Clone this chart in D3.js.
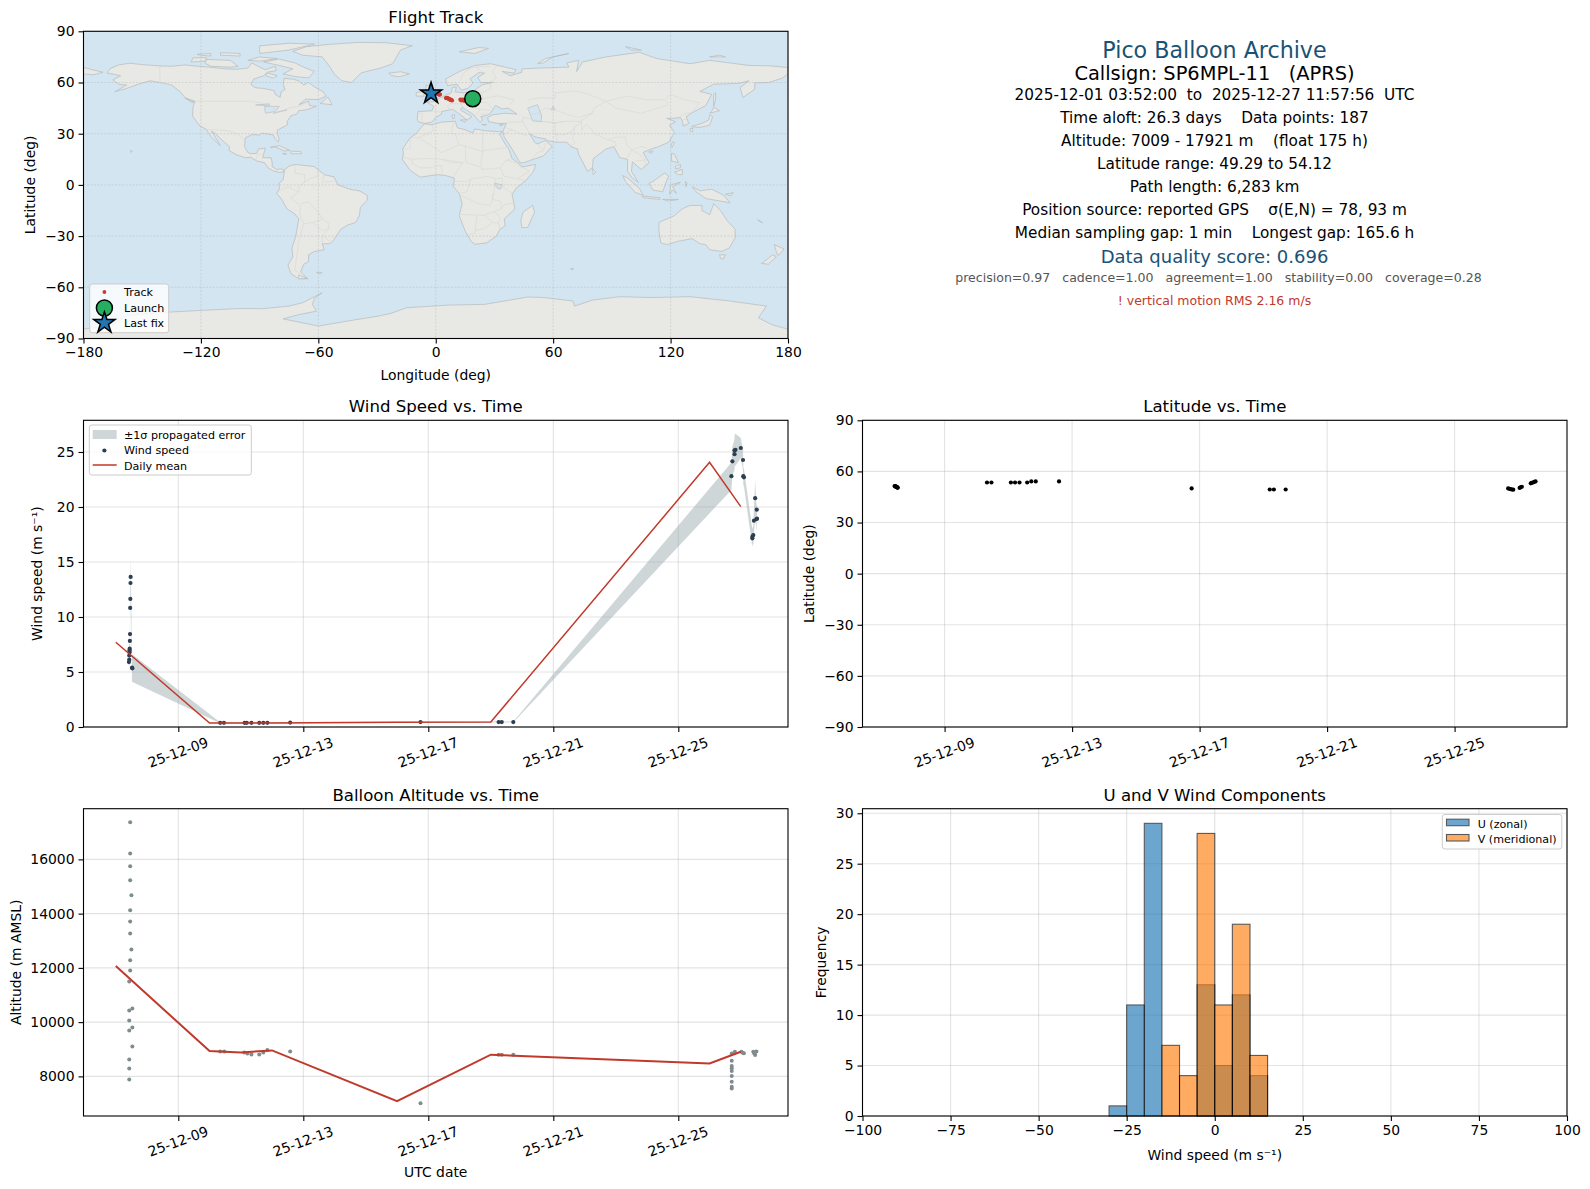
<!DOCTYPE html>
<html>
<head>
<meta charset="utf-8">
<script src="https://cdn.jsdelivr.net/npm/d3@7"></script>
<style>
  body { margin: 0; background: #fff; }
  svg text { font-family: "DejaVu Sans", sans-serif; fill: #000; white-space: pre; }
  .grid line { stroke: #b0b0b0; stroke-opacity: .35; stroke-width: 1.1; }
  .tick line, .domain { stroke: #000; stroke-width: 1.1; }
</style>
</head>
<body>
<div id="chart"></div>
<script>
/** Map: outlines as [lon, lat] */
const northAmerica = [[-168,65.6],[-166,68.4],[-162,70.3],[-156.5,71.3],[-150,70.5],[-141,69.7],[-135,69.5],[-128,70.3],[-124,69.8],[-115,68.9],[-108,68],[-101,67.8],[-96,68.5],[-94,71.5],[-90,69],[-87,67.5],[-82,69.5],[-81.5,67],[-86,66],[-88,64],[-93,62],[-94.5,59],[-92.5,57],[-88,56.5],[-82.5,55.2],[-82,53],[-79.5,51.3],[-79,54.5],[-77,56],[-78,58.8],[-77.5,62.4],[-73,62],[-70,61],[-67.5,58.5],[-65,60],[-62,57.5],[-57.5,54.5],[-56,52],[-60,50],[-66.5,50.2],[-70,47],[-65,49],[-64.5,46.5],[-61,46],[-66,44],[-70,43.5],[-71,41.5],[-74,40.5],[-76,37],[-75.7,35.3],[-78,33.8],[-81,32],[-81,30],[-80,26.8],[-80.5,25.2],[-82,27],[-83,29.2],[-85,29.7],[-89,30.3],[-90,29.2],[-94,29.5],[-97.3,27.5],[-97.7,22.5],[-96,19],[-94.5,18.2],[-91.5,18.5],[-90.5,21],[-87,21.5],[-88,18],[-88.5,16],[-84,15.8],[-83.5,12],[-83.7,10.8],[-81,8.9],[-79.5,9.5],[-77.3,8.7],[-78,7.5],[-80,7.3],[-83,8.2],[-85.7,10],[-87.5,13],[-91.5,14],[-94.5,16.2],[-97,15.9],[-101.5,17.5],[-105.5,20],[-105.5,22.5],[-109,26],[-112.5,30],[-114.7,31.5],[-112.5,27.5],[-110,23],[-112,25],[-115,28.5],[-117.2,32.5],[-120.5,34.5],[-122.5,37.5],[-124.3,40.3],[-124,46],[-123,49],[-128,51],[-130.5,54.5],[-135,58.5],[-140,59.8],[-146,61],[-152,59],[-158,56.5],[-164,54.6],[-158,58.5],[-162,59],[-165,61.5],[-161,64],[-168,65.6]];
const southAmerica = [[-77.3,8.7],[-75,11],[-72,12],[-68,11.5],[-62,10.7],[-57,6],[-52,4.7],[-50,0],[-44,-2.5],[-39,-3.5],[-35,-6],[-35,-9],[-38.5,-13],[-39,-18],[-41,-22],[-45,-23.5],[-48.5,-26],[-52,-32],[-54,-34.5],[-58,-34.5],[-57,-38],[-62,-39],[-65,-41],[-65,-45],[-67.5,-46.5],[-69,-51],[-65.5,-55],[-70,-55],[-74,-52],[-75.5,-47],[-73,-42],[-73.5,-37],[-71.5,-30],[-70,-20],[-72,-17],[-76,-14],[-79,-8],[-81.3,-5],[-80,-2.5],[-80,1],[-78,3],[-77.5,7],[-77.3,8.7]];
const africa = [[-6,35.8],[-2,35.2],[3,36.8],[10,37.3],[11,33.5],[15,32.3],[19,30.4],[20,32.8],[25,31.8],[32,31.2],[34.3,31.2],[32.5,29.8],[35.5,24],[37.3,21],[39,15.5],[43,12],[44,10.5],[51,12],[50,8],[46,2.5],[41,-2],[39,-5.5],[40.5,-14],[35,-20],[35.5,-24],[32.8,-26],[31,-30],[26,-34],[20,-34.8],[18,-33],[15,-27],[12,-18],[13.5,-11],[12,-5],[9,-1],[9.5,4],[5,5.5],[1,6],[-4,5.2],[-8,4.5],[-13,8.5],[-17,14.7],[-16.5,19],[-17,21],[-13,27.7],[-10,30],[-6,35.8]];
const eurasia = [[-9,37],[-9.5,38.7],[-9,43],[-2,43.4],[-1,46],[-4.5,48.4],[-1.5,48.7],[1.5,50.5],[4,52],[8,54],[8.5,57],[10.5,57.5],[10,54.5],[14,54],[19,54.5],[21,56.5],[24,58.8],[29,60],[23,60],[21.5,63],[25,65.5],[22,65.8],[17.5,62],[19,59.8],[16.5,56.5],[13,55.5],[11,59],[6,58.2],[5,62],[13,67],[20,70],[28,71],[41,67.5],[40,65.5],[34,66.5],[38,64],[44,66],[44,68],[54,68.5],[68,69],[67,71.5],[73,73],[72,66.5],[75,72],[87,75],[104,77.7],[113,74],[130,71],[140,73],[160,70],[170,69.8],[180,68.8],[180,65],[177,62.5],[170,60],[163,59.8],[163,56],[157,51.2],[155.5,57],[160,61],[155,59.5],[142,59],[135,54.8],[141,53],[138,46.5],[132,43],[128,40],[129.3,36],[126.5,34.5],[126,37.5],[125,39.5],[121.5,39],[118,39],[122.5,37],[119.5,35],[122,30.5],[119,25],[114,22.5],[110,21],[106,19],[109,13],[105,9],[100.5,13.5],[100,8],[103.5,1.5],[100.5,4],[98,8],[98,15],[94,16],[91,22.5],[87,21],[80.5,15.5],[80,10],[77.5,8],[73,18],[72.5,21],[69,22.5],[67,25],[61.5,25],[57,26],[56,27],[51,28],[48,30],[50.5,25],[52,24],[56,26],[59.5,22.5],[55,17],[45,13],[43,13],[39,21],[35,28],[34.3,31.2],[36,36],[32,36],[27,37],[26.5,39.5],[29,41],[35,42],[41.5,41.5],[37,45],[34,44.5],[30.5,46.5],[28,42],[26,40.7],[23,40],[24,38],[22.5,36.7],[19.5,41],[13.5,45.5],[12.5,44],[18.5,40],[16,38],[11,42.5],[8.5,44.3],[3,43],[3,41.5],[0,39.5],[-2,36.8],[-5.5,36],[-9,37]];
const australia = [[114,-22],[122,-18],[126,-14],[130,-12],[136,-12],[136,-15],[140,-17.5],[142,-11],[145.5,-15],[149,-21],[153,-26],[153,-31],[150,-37],[146,-39],[140,-38],[138,-35],[135,-34.5],[131,-31.5],[124,-33],[118,-35],[115,-34],[114,-27],[114,-22]];
const antarctica = [[-180,-90],[-180,-84.5],[-165,-82],[-158,-76.5],[-136,-74.5],[-119,-73.5],[-102,-72.5],[-88,-72.5],[-75,-71],[-68,-69],[-58,-63.2],[-62,-66.5],[-63,-70],[-61,-74],[-70,-76],[-78,-78.5],[-60,-82.7],[-42,-79.2],[-30,-77],[-23,-75.3],[-15,-72],[7,-70.4],[25,-70],[47,-65.7],[55,-66],[70,-68],[71,-71],[80,-67.5],[94,-65.5],[110,-66],[130,-65.5],[150,-68],[169,-71],[166,-76],[165,-78],[172,-82],[180,-84.5],[180,-90]];
const greenland = [[-73,78.2],[-66,81],[-55,82.3],[-40,83.5],[-25,83.3],[-12,81.5],[-18,79],[-20,75],[-22,71],[-28,68.5],[-38,65.7],[-43,60],[-48,61],[-52,65],[-54,69],[-58,75],[-68,76],[-73,78.2]];
const islands = [
  [[-80,73.7],[-72,71.5],[-67.5,69],[-62,66.5],[-65,62.7],[-72,63.5],[-78,65],[-73,68],[-80,70],[-88,72],[-80,73.7]],
  [[-117,73.5],[-105,73],[-101,69.5],[-105,69],[-115,69.5],[-118,71.5],[-117,73.5]],
  [[-90,77],[-75,79],[-62,82.5],[-75,83],[-90,81.5],[-90,77]],
  [[-125,72],[-118,72.5],[-117,74.5],[-124,74.5],[-125,72]],
  [[-96,73],[-90,72.5],[-81,74],[-90,75],[-96,73]],
  [[-110,76],[-100,75.5],[-100,77],[-110,77.5],[-110,76]],
  [[-120,76],[-115,75.5],[-115,77],[-122,76.5],[-120,76]],
  [[-86,65.5],[-81,64],[-83,62.5],[-87,64],[-86,65.5]],
  [[-59,47.7],[-53,47],[-55,51.5],[-59,47.7]],
  [[-128,50.8],[-123.5,48.5],[-125,48.5],[-128,50.8]],
  [[-84.5,22],[-80,23],[-74.5,20.2],[-77.5,19.9],[-82,22.3],[-84.5,22]],
  [[-74,19.8],[-69,19.5],[-68.5,18.3],[-74,18.2],[-74,19.8]],
  [[-78.2,18.4],[-76.3,18.2],[-77,17.8],[-78.2,18.4]],
  [[-156,20.2],[-155,19.8],[-155.7,19],[-156,20.2]],
  [[-61,-51.2],[-58,-51.3],[-59,-52.2],[-61,-51.2]],
  [[-70,-52.8],[-65.5,-54.8],[-70,-55],[-70,-52.8]],
  [[-5.5,50],[1,51],[1.5,52.8],[-1.5,55],[-2,57.5],[-5,58.5],[-5,55],[-3,54],[-5,52],[-5.5,50]],
  [[-10,52],[-6,52],[-6,55],[-10,54],[-10,52]],
  [[-24,65.5],[-18,66.3],[-13.5,65],[-18.5,63.4],[-22.5,64],[-24,65.5]],
  [[12,78],[22,80.5],[27,80],[20,77],[12,78]],
  [[52,71],[56,74],[68,77],[60,75],[55,71.5],[52,71]],
  [[100,79],[105,79],[97,81],[100,79]],
  [[140,75],[148,75],[145,76],[140,75]],
  [[12.5,38],[15.5,38.2],[15,36.7],[12.5,38]],
  [[8.3,41],[9.7,41],[9.5,39],[8.5,39],[8.3,41]],
  [[23.5,35.5],[26,35.3],[24.5,35],[23.5,35.5]],
  [[32.5,35],[34.5,35.6],[33.5,34.6],[32.5,35]],
  [[130.8,34],[135,33.7],[140,35],[141.5,40],[140,41],[139.5,38],[136,36],[131,34.4],[130.8,34]],
  [[140,42],[145,43.5],[142,45.5],[141,43],[140,42]],
  [[130,33],[131.5,33],[131,31],[130,31.5],[130,33]],
  [[142,46],[143,50],[143,54],[142,53],[142,48],[142,46]],
  [[120.2,23],[121,25.2],[122,25],[120.8,22],[120.2,23]],
  [[108.8,19.3],[110.8,20],[110.3,18.4],[108.8,19.3]],
  [[120.5,18.5],[122,18],[124,13],[120.5,14],[120.5,18.5]],
  [[122,7.5],[126,9],[126,6],[124,6],[122,7.5]],
  [[122.5,11],[125,12],[125,10],[122.5,9.5],[122.5,11]],
  [[109,1],[111,2],[117,7],[119,5],[117.5,1],[116,-4],[111,-3],[109,1]],
  [[95.5,5.5],[98,4],[104,-2],[106,-6],[102,-4.5],[97,2],[95.5,5.5]],
  [[105.5,-6.5],[114.5,-7.5],[114.5,-8.5],[106,-7.5],[105.5,-6.5]],
  [[116,-8.5],[124,-8.5],[119,-9.5],[116,-8.5]],
  [[119.5,-5.5],[120,0],[125,1.5],[121,-1],[123,-5],[121,-3],[119.5,-5.5]],
  [[127.5,2],[128.5,1],[127.8,-1],[127.5,2]],
  [[131,-1],[135,-3.5],[141,-2.5],[147,-6],[150.5,-10.5],[143,-9],[138,-8],[133,-4],[131,-1]],
  [[148,-5.5],[152,-4.5],[151,-6.3],[148,-5.5]],
  [[80,9.7],[81.8,7.5],[80.5,6],[80,9.7]],
  [[49.5,-12],[50.5,-16],[47,-25],[44,-25],[43.5,-21],[44.5,-16],[49.5,-12]],
  [[145,-41],[148,-41],[147,-43.5],[145.5,-43],[145,-41]],
  [[173,-35],[178,-37.5],[175,-41.5],[174,-39],[173,-35]],
  [[172,-41],[174,-42],[170,-46.5],[166.5,-46],[170,-43],[172,-41]],
  [[165,-21],[167,-22.2],[164.5,-20.3],[165,-21]],
  [[69,-49],[70.5,-49.2],[69.5,-49.8],[69,-49]],
  [[-180,68.8],[-170,66],[-175,64.5],[-180,65],[-180,68.8]]
];
const caspianSea = [[47,45],[52,47],[54,41],[54,37],[49.5,37.5],[48,42],[47,45]];
const inlandWaters = [
  [[-92,46.8],[-85,47.5],[-85,46.5],[-92,46.8]],
  [[-87.5,46],[-80,46],[-82,43],[-87,42],[-87.5,46]],
  [[-83,42],[-76,44],[-79.5,43],[-83,42]],
  [[30,1],[34,0],[33,-2.5],[31.5,-2],[30,1]],
  [[60,46],[61,44],[59,44],[60,46]]
];
const borders = [
  [[-123,49],[-95,49],[-89,48],[-83,46],[-82.5,42],[-79,43],[-75,45],[-70,46],[-67,47.5]],
  [[-141,69.7],[-141,60],[-135,58.5]],
  [[-117,32.5],[-106.5,31.8],[-101,29.7],[-97.3,26]],
  [[-92,14.6],[-91,17.5],[-89,17.8]],
  [[-72,12],[-72,7],[-67,6],[-67,1.5],[-70,-1],[-70,-4.2],[-74,-7.5],[-70.5,-11],[-69,-12.5],[-69.5,-17.5],[-67.5,-22.8],[-70,-33],[-72,-50],[-69,-52]],
  [[-60.5,8.5],[-60,5],[-64,4],[-67,1.5]],
  [[-57,6],[-58,1.5],[-52,2.3]],
  [[-80,-3.5],[-75.5,-1],[-70,-4.2]],
  [[-58,-20],[-62.5,-22],[-67.5,-22.8]],
  [[-58,-20],[-60,-16],[-65,-10],[-69,-11]],
  [[-62.5,-22],[-58,-27],[-54.5,-25.5],[-58,-30],[-58,-34]],
  [[-54.5,-25.5],[-55,-22],[-58,-20]],
  [[-53.5,-33.7],[-57.5,-30]],
  [[-9,41.9],[-7,42],[-7,37.2]],
  [[-1.8,43.3],[3,42.5]],
  [[3,51.3],[8,49],[7.5,47.6],[6,46],[7.5,43.8]],
  [[7,53.5],[6,51],[3,51.3]],
  [[9,54.8],[10,54.5]],
  [[14,54],[15,51],[24,50.5],[23.5,54],[21,55.3]],
  [[7.5,47.6],[13,47.5],[17,48],[22.5,48.5],[24,50.5]],
  [[13,47.5],[13.5,45.6]],
  [[17,48],[19,45.8],[22.7,44.2],[28,43.7]],
  [[22.5,48.5],[26.5,48.2],[28.2,45.5],[29.5,45.2]],
  [[24,50.5],[32,52.2],[40,49.7],[38,47]],
  [[23.5,54],[28,56],[28,59.5]],
  [[31,69.7],[29,66],[31,62.7],[28,60.5]],
  [[13,67],[18,68.5],[20.5,69],[28,69.5]],
  [[12.5,61],[14,65.5],[18,68.5]],
  [[20.5,69],[24,66],[25,65.5]],
  [[22.7,44.2],[21,41],[20,39.7]],
  [[23,41.3],[26.3,41.7]],
  [[-17,21],[-13,21.3],[-13,27.7]],
  [[-13,27.7],[-8.7,27.7],[-1,32],[-2,35.2]],
  [[-8.7,27.7],[3,19],[12,23.5],[14.5,23],[24,19.5],[24,31.8]],
  [[9,37],[8,30],[10,30],[12,23.5]],
  [[24,20],[37,22]],
  [[24,19.5],[23,12.5],[24,9],[33,10],[35,5],[41,3.8],[46,2.5]],
  [[33,10],[36,14.5],[39,15.5]],
  [[36,14.5],[42,12.8],[43,11],[48,8],[42,4]],
  [[-16.5,16],[-12,15],[-5,15.5],[3,15],[14,13]],
  [[-12,15],[-12,12.5],[-8,10],[-3,10],[2.7,11.5],[3.5,6.4]],
  [[14,13],[8,13],[3,15]],
  [[14,13],[9,5]],
  [[15,23],[15.5,13],[22,10.8],[24,9]],
  [[9.5,2.2],[16,2],[18,3.5],[27,5],[30.5,3.5],[30,-1],[29.5,-5],[28,-12],[22,-11],[12,-5.8]],
  [[18,3.5],[16,-4],[12.5,-5]],
  [[30.5,3.5],[34,4],[34,-1],[39,-4.7]],
  [[34,-1],[30,-1]],
  [[29.5,-5],[29,-8.5],[33,-9.5],[33.5,-14],[30,-15.5],[25,-17.8],[12,-17.3]],
  [[21,-18],[20,-28.5],[17,-28.8]],
  [[25,-17.8],[29,-22],[32,-22.5],[33,-26]],
  [[33.5,-14],[35,-11.5],[40.5,-10.5]],
  [[30,-15.5],[33,-19.5],[32,-22.5]],
  [[20,-26.8],[25,-25.5],[29,-22]],
  [[36,36.5],[42,37],[44.5,37],[46,34],[48,30]],
  [[36,33.5],[39,32.3],[46,29],[48,29.5]],
  [[35,29.5],[37,31.5],[39,32.3]],
  [[52,24],[55,20],[52,19],[48,14]],
  [[55,20],[56,24.5]],
  [[44.5,37],[44.5,39.7],[49,38.4],[54,37.3],[61,36.5],[61,31.5],[62,25.2]],
  [[61,36.5],[66,37.3],[71,37.3],[74.5,37],[71,34],[69,31],[66,29.5],[61,29.5]],
  [[71,34],[70,28],[71,24.5],[69,23]],
  [[74.5,37],[74.5,32],[77,35.5],[80,32],[81,30],[88,26.5],[92,28],[97,28]],
  [[88,26.5],[92,25],[92,22.5]],
  [[97,28],[97.5,23.5],[100,20.5],[98,16]],
  [[100,20.5],[105,22.5],[108,21.5]],
  [[100,20.5],[104,18],[107,15],[107,11]],
  [[102,14],[107,14.5]],
  [[48,41.5],[52,42],[54,41]],
  [[54,37.3],[61,36],[66,37.3]],
  [[52,42],[56,45],[61,44],[68,41],[73,39.5],[80,42],[74,37.5]],
  [[47.5,50],[54,51],[61,51],[61,54],[71,55],[77,53.5],[87,49]],
  [[87,49],[81,45],[80,42]],
  [[87,49],[98,52],[107,50],[117,50],[120,53],[127,50],[135,48],[131,43]],
  [[87,49],[92,45],[105,42],[112,44.5],[119,47],[117,50]],
  [[124.5,40],[128,42],[130.5,42.3]],
  [[126,38],[128.5,38.5]],
  [[28,60.5],[31,60]]
];
const trackLon = [13,13.4,13.9,14.2,14.6,15,12.6,5.2,5.6,6,6.4,6.8,7.1,7.4,7.8,8.3,0.3,0.7,1,1.3,1.6,2,2.1];
const trackLat = [49.5,49.8,50,49.4,49.6,49.3,50,50.9,51,50.8,50.6,50.4,50.1,50,49.8,49.5,53.6,53.4,53.5,53.2,53,53.1,52.9];
const launchFix = [18.9, 50.5];
const lastFix = [-2.4, 53.6];

/** Wind speed vs. time, days are days of December 2025 */
const windDays = [7.42,7.43,7.43,7.44,7.44,7.445,7.45,7.455,7.46,7.465,7.47,7.475,7.52,7.53,10.34,10.46,11.12,11.19,11.34,11.59,11.72,11.85,12.58,16.75,19.25,19.35,19.72,26.7,26.73,26.8,26.8,26.83,27.0,27.07,27.08,27.1,27.37,27.37,27.4,27.42,27.46,27.5,27.51,27.52];
const windSpeed = [5.9,6.12,6.5,6.8,6.97,7.12,7.82,8.45,10.82,11.64,13.09,13.64,5.39,5.33,0.38,0.38,0.38,0.38,0.38,0.38,0.38,0.38,0.4,0.45,0.45,0.45,0.45,22.8,24.15,24.8,25.15,25.2,25.36,24.27,22.8,22.7,17.15,17.3,17.45,18.76,20.8,18.9,19.76,18.94];
const windSigma = [0.9,0.9,0.9,1,1,1,1.1,1.2,1.3,1.5,1.6,1.7,1.25,1.25,0.05,0.05,0.05,0.05,0.05,0.05,0.05,0.05,0.05,0.05,0.05,0.05,0.05,1.25,1.3,1.4,1.4,1.45,0.9,0.9,0.8,0.8,0.8,0.8,0.8,1.2,1.6,1.2,0.7,0.7];
const meanDays = [7,10,11,12,16,19,26,27];
const meanWind = [7.7,0.36,0.36,0.37,0.43,0.45,24.06,20.03];

/** Latitude vs. time */
const latDays = [7.43,7.45,7.46,7.47,7.48,7.49,7.5,7.51,7.52,7.53,10.33,10.47,11.08,11.21,11.35,11.59,11.72,11.86,12.59,16.75,19.2,19.33,19.7,26.68,26.72,26.76,26.8,26.84,27.04,27.07,27.11,27.39,27.42,27.46,27.5,27.54];
const latDeg = [51.4,51.3,51.2,51.1,51,50.9,50.8,50.7,50.5,50.4,53.5,53.5,53.5,53.5,53.5,53.5,54.1,54.1,54.12,50,49.4,49.4,49.4,50,49.8,49.6,49.4,49.29,50.3,50.7,51,53,53.3,53.5,53.9,54.1];

/** Altitude vs. time */
const altDays = [7.43,7.43,7.43,7.53,7.43,7.53,7.43,7.53,7.43,7.43,7.46,7.46,7.5,7.46,7.46,7.46,7.5,7.46,7.46,7.46,7.46,10.34,10.47,11.11,11.21,11.34,11.59,11.72,11.85,12.58,16.75,19.25,19.35,19.72,26.71,26.71,26.71,26.71,26.71,26.71,26.71,26.71,26.71,26.81,27.02,27.06,27.1,27.4,27.43,27.46,27.5];
const altMeters = [7889,8295,8627,9106,9696,9806,10065,10507,10433,11502,11908,12277,12682,13272,13714,14120,14673,15226,15742,16221,17365,8922,8922,8885,8848,8811,8811,8885,8970,8922,7009,8800,8800,8800,7557,7620,7800,8011,8200,8300,8380,8575,8848,8908,8908,8870,8850,8908,8847,8785,8920];
const meanAlt = [12068,8934,8885,8958,7090,8800,8479,8908];

/** Histogram counts, bins 5 m/s wide */
const histEdges = [-30,-25,-20,-15,-10,-5,0,5,10,15];
const uCounts = [1,11,29,0,0,13,5,12,4];
const vCounts = [0,0,0,7,4,28,11,19,6];

/** Axis ticks */
const mapLonTicks = [-180,-120,-60,0,60,120,180];
const latTicks = [-90,-60,-30,0,30,60,90];
const dateTicks = [9,13,17,21,25];
const windTicks = [0,5,10,15,20,25];
const altTicks = [8000,10000,12000,14000,16000];
const histXTicks = [-100,-75,-50,-25,0,25,50,75,100];
const histYTicks = [0,5,10,15,20,25,30];

/** Info panel lines */
const infoLines = [
  {t: "Pico Balloon Archive", y: 58, s: 22.2, c: "#1a5276"},
  {t: "Callsign: SP6MPL-11   (APRS)", y: 80, s: 19.4, c: "#000"},
  {t: "2025-12-01 03:52:00  to  2025-12-27 11:57:56  UTC", y: 100, s: 15.3, c: "#000"},
  {t: "Time aloft: 26.3 days    Data points: 187", y: 123, s: 15.3, c: "#000"},
  {t: "Altitude: 7009 - 17921 m    (float 175 h)", y: 146, s: 15.3, c: "#000"},
  {t: "Latitude range: 49.29 to 54.12", y: 169, s: 15.3, c: "#000"},
  {t: "Path length: 6,283 km", y: 192, s: 15.3, c: "#000"},
  {t: "Position source: reported GPS    σ(E,N) = 78, 93 m", y: 215, s: 15.3, c: "#000"},
  {t: "Median sampling gap: 1 min    Longest gap: 165.6 h", y: 238, s: 15.3, c: "#000"},
  {t: "Data quality score: 0.696", y: 263, s: 18, c: "#1a5276"},
  {t: "precision=0.97   cadence=1.00   agreement=1.00   stability=0.00   coverage=0.28", y: 282, s: 12.55, c: "#555", dx: 4},
  {t: "! vertical motion RMS 2.16 m/s", y: 305, s: 12.5, c: "#c0392b"}
];

const toDate = d => new Date(Date.UTC(2025, 11, 1) + (d - 1) * 864e5);
const pairs = (a, b) => a.map((v, i) => [v, b[i]]);

const svg = d3.select("#chart").append("svg")
  .attr("width", 1590).attr("height", 1189);

// boxes of the five axes
const leftCol = [83.5, 788], rightCol = [862.5, 1567];
const row1 = [31.3, 338.5], row2 = [420.3, 727], row3 = [808.7, 1116];

/** Date scale for a column: December 9 and 25 sit at known pixels */
function dateScale(col, at9, at25) {
  const pxPerDay = (at25 - at9) / 16;
  return d3.scaleUtc()
    .domain([toDate(9 + (col[0] - at9) / pxPerDay), toDate(9 + (col[1] - at9) / pxPerDay)])
    .range(col);
}

/** Axes, grid, spines and labels for one panel */
function panel(opt) {
  const g = svg.append("g");
  const grid = g.append("g").attr("class", "grid");
  grid.selectAll(".gx").data(opt.xTicks).join("line")
    .attr("x1", d => opt.x(d)).attr("x2", d => opt.x(d))
    .attr("y1", opt.y.range()[1]).attr("y2", opt.y.range()[0]);
  grid.selectAll(".gy").data(opt.yTicks).join("line")
    .attr("y1", d => opt.y(d)).attr("y2", d => opt.y(d))
    .attr("x1", opt.x.range()[0]).attr("x2", opt.x.range()[1]);
  const marks = g.append("g");
  if (opt.draw) opt.draw(marks);

  const xa = d3.axisBottom(opt.x).tickValues(opt.xTicks).tickSize(5).tickPadding(4);
  if (opt.xFormat) xa.tickFormat(opt.xFormat);
  const xg = g.append("g").attr("transform", `translate(0,${opt.y.range()[0]})`).call(xa);
  const ya = d3.axisLeft(opt.y).tickValues(opt.yTicks).tickSize(5).tickPadding(4).tickFormat(d3.format("d"));
  g.append("g").attr("transform", `translate(${opt.x.range()[0]},0)`).call(ya);
  g.selectAll(".domain").remove();
  g.selectAll(".tick text").style("font-size", "13.9px");
  if (opt.rotate) {
    xg.selectAll(".tick text")
      .attr("text-anchor", "middle").attr("dy", 0).attr("y", 0)
      .attr("transform", "translate(1,30) rotate(-20)");
  }
  g.append("rect")
    .attr("x", opt.x.range()[0]).attr("y", opt.y.range()[1])
    .attr("width", opt.x.range()[1] - opt.x.range()[0])
    .attr("height", opt.y.range()[0] - opt.y.range()[1])
    .attr("fill", "none").attr("stroke", "#000").attr("stroke-width", 1.1);

  const cx = (opt.x.range()[0] + opt.x.range()[1]) / 2;
  const cy = (opt.y.range()[0] + opt.y.range()[1]) / 2;
  g.append("text").text(opt.title)
    .attr("x", cx).attr("y", opt.y.range()[1] - 8)
    .attr("text-anchor", "middle").style("font-size", "16.6px");
  if (opt.xLabel) g.append("text").text(opt.xLabel)
    .attr("x", cx).attr("y", opt.xLabelY)
    .attr("text-anchor", "middle").style("font-size", "13.9px");
  g.append("text").text(opt.yLabel)
    .attr("transform", `translate(${opt.yLabelX},${cy}) rotate(-90)`)
    .attr("text-anchor", "middle").style("font-size", "13.9px");
}

function legendBox(x, y, w, h) {
  svg.append("rect").attr("x", x).attr("y", y).attr("width", w).attr("height", h).attr("rx", 2.5)
    .attr("fill", "#fff").attr("fill-opacity", .8)
    .attr("stroke", "#ccc").attr("stroke-width", 1);
}
function legendText(t, x, y) {
  svg.append("text").text(t).attr("x", x).attr("y", y).attr("dy", "0.35em").style("font-size", "11.1px");
}

/* ---- Flight track ---- */
const lonScale = d3.scaleLinear().domain([-180, 180]).range(leftCol);
const mapLat = d3.scaleLinear().domain([-90, 90]).range([row1[1], row1[0]]);
const mapLine = d3.line().x(d => lonScale(d[0])).y(d => mapLat(d[1]));
svg.append("clipPath").attr("id", "mapclip").append("rect")
  .attr("x", leftCol[0]).attr("y", row1[0])
  .attr("width", leftCol[1] - leftCol[0]).attr("height", row1[1] - row1[0]);

const starPath = d3.symbol().type(d3.symbolStar);

panel({
  x: lonScale, y: mapLat, xTicks: mapLonTicks, yTicks: latTicks,
  title: "Flight Track", xLabel: "Longitude (deg)", xLabelY: 380,
  yLabel: "Latitude (deg)", yLabelX: 35,
  draw(g) {
    g.attr("clip-path", "url(#mapclip)");
    g.append("rect").attr("x", leftCol[0]).attr("y", row1[0])
      .attr("width", leftCol[1] - leftCol[0]).attr("height", row1[1] - row1[0])
      .attr("fill", "#d3e5f1");
    const land = [northAmerica, southAmerica, africa, eurasia, australia, antarctica, greenland, ...islands];
    g.selectAll(".land").data(land).join("path")
      .attr("class", "land")
      .attr("d", mapLine).attr("fill", "#e8e8e4")
      .attr("stroke", "#b6babb").attr("stroke-width", .7).attr("stroke-linejoin", "round");
    g.selectAll(".water").data([caspianSea, ...inlandWaters]).join("path")
      .attr("class", "water")
      .attr("d", mapLine).attr("fill", "#d3e5f1")
      .attr("stroke", "#b6babb").attr("stroke-width", .6);
    g.selectAll(".border").data(borders).join("path")
      .attr("class", "border")
      .attr("d", mapLine).attr("fill", "none")
      .attr("stroke", "#d6d7d4").attr("stroke-width", .6);
    mapLonTicks.forEach(v => g.append("line")
      .attr("x1", lonScale(v)).attr("x2", lonScale(v)).attr("y1", row1[0]).attr("y2", row1[1])
      .attr("stroke", "#a9b0b3").attr("stroke-opacity", .5).attr("stroke-width", .7).attr("stroke-dasharray", "2 1.5"));
    latTicks.forEach(v => g.append("line")
      .attr("y1", mapLat(v)).attr("y2", mapLat(v)).attr("x1", leftCol[0]).attr("x2", leftCol[1])
      .attr("stroke", "#a9b0b3").attr("stroke-opacity", .5).attr("stroke-width", .7).attr("stroke-dasharray", "2 1.5"));
    g.selectAll(".track").data(pairs(trackLon, trackLat)).join("circle")
      .attr("class", "track")
      .attr("cx", d => lonScale(d[0])).attr("cy", d => mapLat(d[1])).attr("r", 2.1)
      .attr("fill", "#cb3a2e");
    g.append("circle").attr("cx", lonScale(launchFix[0])).attr("cy", mapLat(launchFix[1])).attr("r", 8)
      .attr("fill", "#27ae60").attr("stroke", "#000").attr("stroke-width", 1.5);
    g.append("path").attr("d", starPath.size(140)())
      .attr("transform", `translate(${lonScale(lastFix[0])},${mapLat(lastFix[1])})`)
      .attr("fill", "#1f77b4").attr("stroke", "#000").attr("stroke-width", 1.5);
  }
});

legendBox(89.7, 284, 79, 48.7);
svg.append("circle").attr("cx", 104.4).attr("cy", 292).attr("r", 1.9).attr("fill", "#cb3a2e");
svg.append("circle").attr("cx", 104.4).attr("cy", 308).attr("r", 8)
  .attr("fill", "#27ae60").attr("stroke", "#000").attr("stroke-width", 1.5);
svg.append("path").attr("d", starPath.size(140)()).attr("transform", "translate(104.4,323)")
  .attr("fill", "#1f77b4").attr("stroke", "#000").attr("stroke-width", 1.5);
legendText("Track", 124, 292);
legendText("Launch", 124, 308);
legendText("Last fix", 124, 323);

/* ---- Info panel ---- */
svg.selectAll(".info").data(infoLines).join("text")
  .attr("class", "info")
  .attr("x", d => 1214.5 + (d.dx || 0)).attr("y", d => d.y).attr("text-anchor", "middle")
  .style("font-size", d => d.s + "px").style("fill", d => d.c)
  .text(d => d.t);

/* ---- Wind speed ---- */
const dateLeft = dateScale(leftCol, 178.3, 678.3);
const dateRight = dateScale(rightCol, 944.6, 1454.6);
const dateLabel = d3.utcFormat("%y-%m-%d");
const windY = d3.scaleLinear().domain([0, 27.88]).range([row2[1], row2[0]]);
const windRows = windDays.map((d, i) => ({d: toDate(d), v: windSpeed[i], s: windSigma[i]}));

panel({
  x: dateLeft, y: windY, xTicks: dateTicks.map(toDate), yTicks: windTicks, xFormat: dateLabel, rotate: true,
  title: "Wind Speed vs. Time", yLabel: "Wind speed (m s⁻¹)", yLabelX: 42,
  draw(g) {
    g.append("path").datum(windRows)
      .attr("d", d3.area().x(d => dateLeft(d.d)).y0(d => windY(Math.max(0, d.v - d.s))).y1(d => windY(d.v + d.s)))
      .attr("fill", "#95a5a6").attr("fill-opacity", .45);
    g.selectAll(".pt").data(windRows).join("circle")
      .attr("class", "pt")
      .attr("cx", d => dateLeft(d.d)).attr("cy", d => windY(d.v)).attr("r", 2.1)
      .attr("fill", "#2c3e50");
    g.append("path").datum(pairs(meanDays, meanWind))
      .attr("d", d3.line().x(d => dateLeft(toDate(d[0]))).y(d => windY(d[1])))
      .attr("fill", "none").attr("stroke", "#c0392b").attr("stroke-width", 1.5);
  }
});

legendBox(89.3, 425, 162, 50);
svg.append("rect").attr("x", 92.7).attr("y", 430).attr("width", 24).attr("height", 9)
  .attr("fill", "#95a5a6").attr("fill-opacity", .45);
svg.append("circle").attr("cx", 104.4).attr("cy", 450.5).attr("r", 2.1).attr("fill", "#2c3e50");
svg.append("line").attr("x1", 92.7).attr("x2", 116.7).attr("y1", 465).attr("y2", 465)
  .attr("stroke", "#c0392b").attr("stroke-width", 1.5);
legendText("±1σ propagated error", 124, 435);
legendText("Wind speed", 124, 450.5);
legendText("Daily mean", 124, 466);

/* ---- Latitude ---- */
const latY = d3.scaleLinear().domain([-90, 90]).range([row2[1], row2[0]]);
panel({
  x: dateRight, y: latY, xTicks: dateTicks.map(toDate), yTicks: latTicks, xFormat: dateLabel, rotate: true,
  title: "Latitude vs. Time", yLabel: "Latitude (deg)", yLabelX: 814,
  draw(g) {
    g.selectAll(".pt").data(pairs(latDays, latDeg)).join("circle")
      .attr("class", "pt")
      .attr("cx", d => dateRight(toDate(d[0]))).attr("cy", d => latY(d[1])).attr("r", 2.1)
      .attr("fill", "#000");
  }
});

/* ---- Altitude ---- */
const altY = d3.scaleLinear().domain([6540, 17868]).range([row3[1], row3[0]]);
panel({
  x: dateLeft, y: altY, xTicks: dateTicks.map(toDate), yTicks: altTicks, xFormat: dateLabel, rotate: true,
  title: "Balloon Altitude vs. Time", xLabel: "UTC date", xLabelY: 1177,
  yLabel: "Altitude (m AMSL)", yLabelX: 21,
  draw(g) {
    g.selectAll(".pt").data(pairs(altDays, altMeters)).join("circle")
      .attr("class", "pt")
      .attr("cx", d => dateLeft(toDate(d[0]))).attr("cy", d => altY(d[1])).attr("r", 2)
      .attr("fill", "#7f8c8d");
    g.append("path").datum(pairs(meanDays, meanAlt))
      .attr("d", d3.line().x(d => dateLeft(toDate(d[0]))).y(d => altY(d[1])))
      .attr("fill", "none").attr("stroke", "#c0392b").attr("stroke-width", 2);
  }
});

/* ---- U and V histogram ---- */
const histX = d3.scaleLinear().domain([-100, 100]).range(rightCol);
const histY = d3.scaleLinear().domain([0, 30.45]).range([row3[1], row3[0]]);
panel({
  x: histX, y: histY, xTicks: histXTicks, yTicks: histYTicks,
  title: "U and V Wind Components", xLabel: "Wind speed (m s⁻¹)", xLabelY: 1160,
  yLabel: "Frequency", yLabelX: 826,
  draw(g) {
    [[uCounts, "#1f77b4"], [vCounts, "#ff7f0e"]].forEach(([counts, color]) => {
      const rows = counts.map((c, i) => ({c, a: histEdges[i], b: histEdges[i + 1]})).filter(r => r.c > 0);
      g.append("g").selectAll("rect").data(rows).join("rect")
        .attr("x", r => histX(r.a)).attr("width", r => histX(r.b) - histX(r.a))
        .attr("y", r => histY(r.c)).attr("height", r => histY(0) - histY(r.c))
        .attr("fill", color).attr("stroke", "#000").attr("stroke-width", 1.1).attr("opacity", .65);
    });
  }
});

legendBox(1442.3, 814.5, 119.5, 34.5);
svg.append("rect").attr("x", 1446.5).attr("y", 819.2).attr("width", 22.5).attr("height", 6.5)
  .attr("fill", "#1f77b4").attr("stroke", "#000").attr("stroke-width", 1.1).attr("opacity", .65);
svg.append("rect").attr("x", 1446.5).attr("y", 834.5).attr("width", 22.5).attr("height", 6.5)
  .attr("fill", "#ff7f0e").attr("stroke", "#000").attr("stroke-width", 1.1).attr("opacity", .65);
legendText("U (zonal)", 1477.7, 824);
legendText("V (meridional)", 1477.7, 839);
</script>
</body>
</html>
